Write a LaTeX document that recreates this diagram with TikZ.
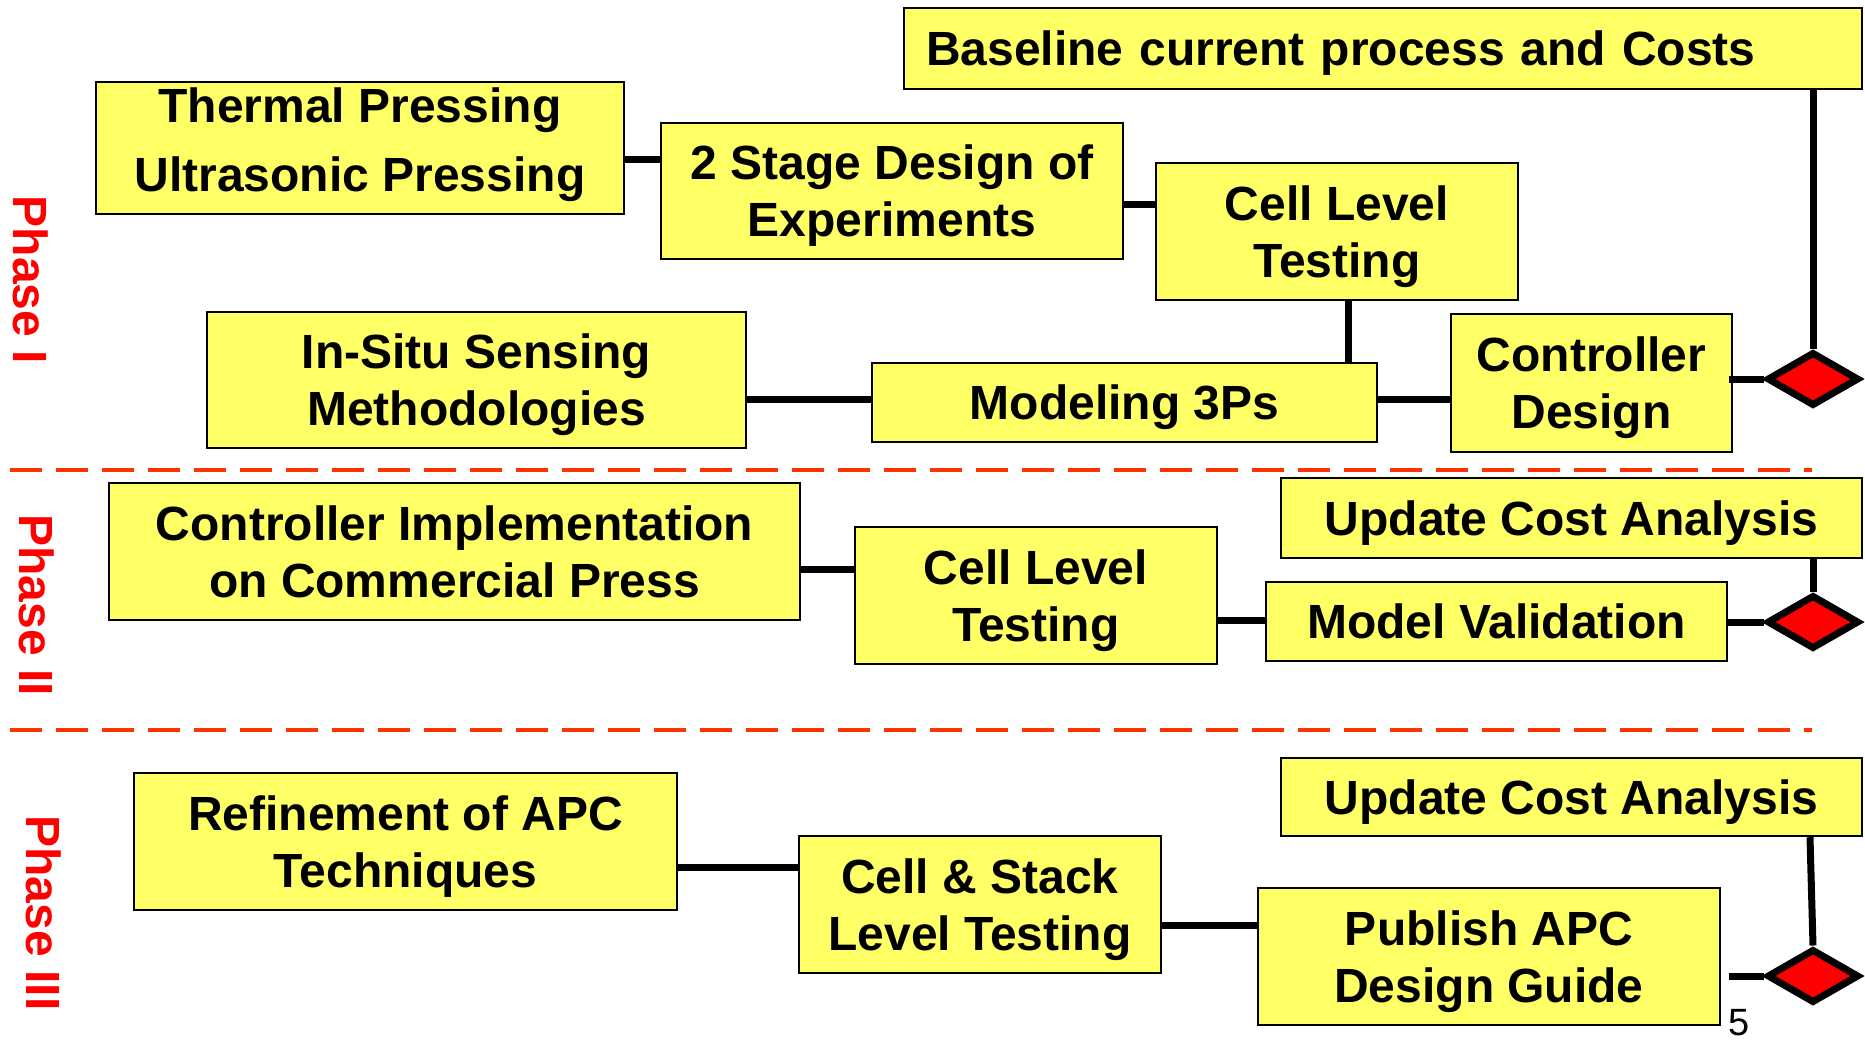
\documentclass[tikz,border=0pt]{standalone}
\usepackage{fontspec}
\setmainfont{Liberation Sans}
\usetikzlibrary{shapes.geometric}

\definecolor{boxfill}{RGB}{255,255,102}
\definecolor{phasered}{RGB}{255,0,0}
\definecolor{dashred}{RGB}{255,51,0}

% last line of a box: keep its height, drop its descender depth
\newcommand\lastln[2][0pt]{\raisebox{0pt}[\height][#1]{#2}}

\tikzset{
  box/.style={draw=black, line width=1.2pt, fill=boxfill, inner sep=0pt,
    align=center, font=\fontsize{24}{28.5}\selectfont\bfseries},
  % span={x1}{y1}{x2}{y2}: box covering the given corners
  span/.style n args={4}{at={(0.5*#1+0.5*#3,0.5*#2+0.5*#4)},
    minimum width={0.5pt*(#3-#1)}, minimum height={0.5pt*(#4-#2)}},
  conn/.style={draw=black, line width=3.5pt},
  gate/.style={diamond, draw=black, line width=3.5pt, fill=red,
    minimum width=46pt, minimum height=27pt, inner sep=0pt},
  phase/.style={text=phasered, rotate=-90, inner sep=0pt,
    font=\fontsize{24}{28}\selectfont\bfseries},
  divider/.style={draw=dashred, line width=2pt, dash pattern=on 16pt off 7pt}
}

\begin{document}
\begin{tikzpicture}[x={(0.5pt,0)}, y={(0,-0.5pt)}]
\useasboundingbox (0,0) rectangle (1865,1041);

% phase dividers
\draw[divider] (10,470) -- (1812,470);
\draw[divider] (10,730) -- (1812,730);

% phase labels
\node[phase] (p1) at (31,280) {Phase I};
\node[phase] (p2) at (37,605) {Phase II};
\node[phase] (p3) at (44,913) {Phase III};

% Phase I
\node[box, span={904}{8}{1862}{89}, text width=457pt, align=left] (base)
  {\lastln{Baseline current process and Costs}};
\node[box, span={96}{82}{624}{214}] (thermal)
  {Thermal Pressing\\[6pt]\lastln[8.5pt]{Ultrasonic Pressing}};
\node[box, span={661}{123}{1123}{259}] (stage)
  {2 Stage Design of\\\lastln{Experiments}};
\node[box, span={1156}{163}{1518}{300}] (cell1)
  {Cell Level\\\lastln{Testing}};
\node[box, span={207}{312}{746}{448}] (insitu)
  {In-Situ Sensing\\\lastln{Methodologies}};
\node[box, span={872}{363}{1377}{442}] (model)
  {\lastln{Modeling 3Ps}};
\node[box, span={1451}{314}{1732}{452}] (ctrl)
  {Controller\\\lastln{Design}};
\node[gate] (d1) at (1813,379) {};

% Phase II
\node[box, span={109}{483}{800}{620}] (impl)
  {Controller Implementation\\\lastln{on Commercial Press}};
\node[box, span={855}{527}{1217}{664}] (cell2)
  {Cell Level\\\lastln{Testing}};
\node[box, span={1281}{478}{1862}{558}] (upd2)
  {\lastln{Update Cost Analysis}};
\node[box, span={1266}{582}{1727}{661}] (valid)
  {\lastln{Model Validation}};
\node[gate] (d2) at (1813,622) {};

% Phase III
\node[box, span={134}{773}{677}{910}] (refine)
  {Refinement of APC\\\lastln{Techniques}};
\node[box, span={799}{836}{1161}{973}] (stack)
  {Cell \& Stack\\\lastln{Level Testing}};
\node[box, span={1281}{758}{1862}{836}] (upd3)
  {\lastln{Update Cost Analysis}};
\node[box, span={1258}{888}{1720}{1025}] (pub)
  {Publish APC\\\lastln{Design Guide}};
\node[gate] (d3) at (1813,976) {};

% page number
\node[anchor=base west, inner sep=0pt, font=\fontsize{19}{22}\selectfont] (pg)
  at (1728,1035) {5};

% connectors, Phase I
\draw[conn] (thermal.east |- 0,159) -- (stage.west |- 0,159);
\draw[conn] (stage.east |- 0,204) -- (cell1.west |- 0,204);
\draw[conn] (cell1.south -| 1348,0) -- (model.north -| 1348,0);
\draw[conn] (insitu.east |- 0,399) -- (model.west |- 0,399);
\draw[conn] (model.east |- 0,399) -- (ctrl.west |- 0,399);
\draw[conn] ([xshift=-2pt]ctrl.east |- d1.west) -- (d1.west);
\draw[conn] (d1.north |- base.south) -- (d1.north);

% connectors, Phase II
\draw[conn] (impl.east |- 0,569) -- (cell2.west |- 0,569);
\draw[conn] (cell2.east |- 0,620) -- (valid.west |- 0,620);
\draw[conn] (valid.east |- d2.west) -- (d2.west);
\draw[conn] (d2.north |- upd2.south) -- (d2.north);

% connectors, Phase III
\draw[conn] (refine.east |- 0,867) -- (stack.west |- 0,867);
\draw[conn] (stack.east |- 0,925) -- (pub.west |- 0,925);
\draw[conn] ([xshift=4pt]pub.east |- d3.west) -- (d3.west);
\draw[conn] ([xshift=-1.5pt]d3.north |- upd3.south) -- (d3.north);
\end{tikzpicture}
\end{document}
